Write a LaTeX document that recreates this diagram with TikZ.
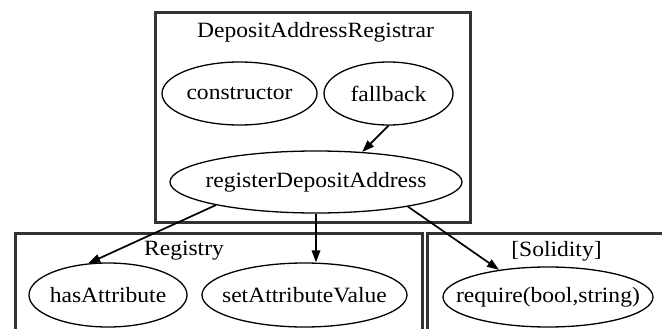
\documentclass[tikz,border=0pt]{standalone}
\usepackage{fontspec}
\setmainfont[FakeStretch=1.08]{Liberation Serif}
\usetikzlibrary{arrows.meta,shapes.geometric}
\begin{document}
\begin{tikzpicture}[x=1pt,y=-1pt,
  cluster/.style={draw=black!80, line width=3pt},
  fn/.style={ellipse, draw=black, line width=1.3pt, inner sep=0pt,
    label={[inner sep=0pt]center:#1}},
  lbl/.style={inner sep=0pt},
  call/.style={draw=black, line width=1.7pt, -{Triangle[length=12pt,width=8.5pt]}},
  every node/.style={font=\fontsize{21.8}{24}\selectfont},
  every label/.style={font=\fontsize{21.8}{24}\selectfont}]
\useasboundingbox (0,0) rectangle (662,329);
\clip (0,0) rectangle (662,329);

% contract clusters
\draw[cluster] (155,13) rectangle (470,222);
\draw[cluster] (15,233) rectangle (422,345);
\draw[cluster] (427,233) rectangle (680,345);

\node[lbl] (t1) at (315.5,32) {DepositAddressRegistrar};
\node[lbl] (t2) at (184,251) {Registry};
\node[lbl] (t3) at (556.5,251) {[Solidity]};

% functions (fixed-size ellipses, name set as a centred label)
\node[fn=constructor, minimum width=155pt, minimum height=63pt] (ctor) at (239.5,93.5) {};
\node[fn=fallback, minimum width=129pt, minimum height=63pt] (fb) at (388.5,93.5) {};
\node[fn=registerDepositAddress, minimum width=292pt, minimum height=62pt] (reg) at (316,182) {};
\node[fn=hasAttribute, minimum width=158pt, minimum height=64pt] (has) at (108,295) {};
\node[fn=setAttributeValue, minimum width=205pt, minimum height=64pt] (set) at (304.5,295) {};
\node[fn={require(bool,string)}, minimum width=210pt, minimum height=60pt] (req) at (548,297) {};

% calls
\draw[call] (fb.south) -- (reg.33);
\draw[call] (reg.193) -- (has.122);
\draw[call] (reg.south) -- (reg.south |- set.north);
\draw[call] (reg.-15) -- (req.151);
\end{tikzpicture}
\end{document}
